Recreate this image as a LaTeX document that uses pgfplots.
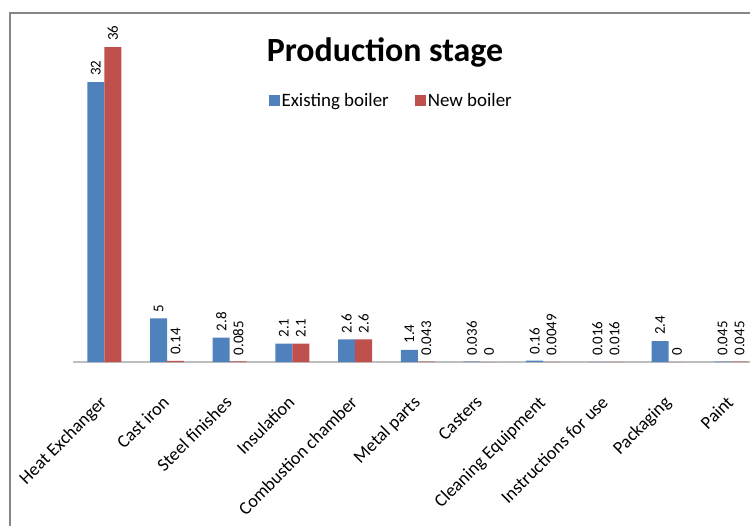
\documentclass[border=0pt]{standalone}
\usepackage{pgfplots}
\pgfplotsset{compat=1.18}
\usepackage{fontspec}
\setmainfont{Carlito}
\definecolor{exblue}{HTML}{4F81BD}
\definecolor{nwred}{HTML}{C0504D}
\definecolor{framegray}{HTML}{868686}
\definecolor{axisgray}{HTML}{BEBEBE}
\begin{document}
\begin{tikzpicture}
\useasboundingbox (-73bp,-164bp) rectangle (677bp,362bp);
\begin{axis}[
  scale only axis,
  width=677bp, height=349bp,
  xmin=-0.5, xmax=10.3,
  ymin=0, ymax=39.886,
  axis x line=bottom, axis y line=none,
  x axis line style={-, draw=axisgray, line width=1.5bp},
  ytick=\empty,
  xtick={0,1,2,3,4,5,6,7,8,9,10},
  xticklabels={Heat Exchanger,Cast iron,Steel finishes,Insulation,Combustion chamber,Metal parts,Casters,Cleaning Equipment,Instructions for use,Packaging,Paint},
  xtick style={draw=none},
  xticklabel style={rotate=45, anchor=north east, inner sep=0pt, yshift=-16bp, xshift=-24bp, font=\fontsize{18.3}{21}\selectfont},
  ybar=0pt, bar width=17bp,
  point meta=explicit symbolic,
  nodes near coords,
  nodes near coords style={rotate=90, anchor=west, inner sep=6bp, font=\fontsize{15}{17}\selectfont, text=black},
  legend columns=2,
  legend style={at={(0.470,0.748)}, anchor=center, draw=none, fill=none,
    font=\fontsize{19}{21}\selectfont,
    /tikz/every even column/.append style={column sep=24bp}},
  legend image code/.code={\fill[#1] (-3bp,-5.5bp) rectangle (8bp,5.5bp);},
]
\addplot[fill=exblue, draw=none] table[x=x, y=y, meta=l] {
x y l
0 32 32
1 5 5
2 2.8 2.8
3 2.1 2.1
4 2.6 2.6
5 1.4 1.4
6 0.036 0.036
7 0.16 0.16
8 0.016 0.016
9 2.4 2.4
10 0.045 0.045
};
\addlegendentry{Existing boiler}
\addplot[fill=nwred, draw=none] table[x=x, y=y, meta=l] {
x y l
0 36 36
1 0.14 0.14
2 0.085 0.085
3 2.1 2.1
4 2.6 2.6
5 0.043 0.043
6 0 0
7 0.0049 0.0049
8 0.016 0.016
9 0 0
10 0.045 0.045
};
\addlegendentry{New boiler}
\end{axis}
\node[font=\fontsize{34}{40}\selectfont\bfseries] at (312bp,310bp) {Production stage};
\draw[framegray, line width=1.3bp] (-63bp,-170bp) -- (-63bp,349bp) -- (680bp,349bp);
\end{tikzpicture}
\end{document}
